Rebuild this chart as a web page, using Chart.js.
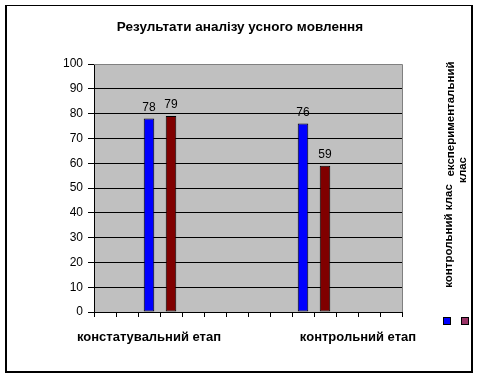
<!DOCTYPE html>
<html><head><meta charset="utf-8">
<script src="https://cdn.jsdelivr.net/npm/chart.js@4/dist/chart.umd.min.js"></script>
<style>html,body{margin:0;padding:0;background:#fff}canvas{display:block}</style>
</head><body>
<canvas id="c" width="480" height="379"></canvas>
<script>
// ---- data ----
const titleText = 'Результати аналізу усного мовлення';
const categories = ['', '', '', '', '', '', '', '', '', '', '', '', '', ''];
const controlClass = [null, null, 78, null, null, null, null, null, null, 76, null, null, null, null];
const experimentalClass = [null, null, null, 79, null, null, null, null, null, null, 59, null, null, null];
const seriesNames = ['контрольний клас', 'експериментальний клас'];
const stageLabels = ['констатувальний етап', 'контрольний етап'];
const yMin = 0, yMax = 100, yStep = 10;

// ---- layout / style ----
const stageLabelAt = [2, 11.5];
const FONT = '"Liberation Sans", Arial, sans-serif';

const decor = {
  id: 'decor',
  beforeDraw(chart) {
    const ctx = chart.ctx, a = chart.chartArea;
    ctx.save();
    ctx.fillStyle = '#fff';
    ctx.fillRect(0, 0, chart.width, chart.height);
    ctx.fillStyle = '#000';
    ctx.fillRect(5, 5, 468, 1);
    ctx.fillRect(5, 5, 2, 368);
    ctx.fillRect(471, 5, 2, 368);
    ctx.fillRect(5, 371, 468, 2);
    ctx.fillStyle = '#C0C0C0';
    ctx.fillRect(a.left, a.top, a.right - a.left, a.bottom - a.top);
    ctx.restore();
  },
  afterDraw(chart) {
    const ctx = chart.ctx, a = chart.chartArea;
    ctx.save();
    // plot border (top/right gray)
    ctx.strokeStyle = '#808080';
    ctx.lineWidth = 1;
    ctx.beginPath();
    ctx.moveTo(a.left, a.top + 0.5);
    ctx.lineTo(a.right + 0.5, a.top + 0.5);
    ctx.lineTo(a.right + 0.5, a.bottom);
    ctx.stroke();
    // title
    ctx.fillStyle = '#000';
    ctx.font = 'bold 13.5px ' + FONT;
    ctx.textAlign = 'center';
    ctx.textBaseline = 'alphabetic';
    ctx.fillText(titleText, 240, 31);
    // stage labels
    const xs = chart.scales.x;
    ctx.font = 'bold 13px ' + FONT;
    stageLabels.forEach((t, i) => {
      ctx.fillText(t, xs.getPixelForValue(stageLabelAt[i]), 341);
    });
    // value labels
    ctx.font = '12px ' + FONT;
    chart.data.datasets.forEach((ds, di) => {
      const meta = chart.getDatasetMeta(di);
      meta.data.forEach((el, i) => {
        const v = ds.data[i];
        if (v === null || v === undefined) return;
        ctx.fillText(String(v), el.x, el.y - 8);
      });
    });
    // legend
    ctx.font = 'bold 11.5px ' + FONT;
    ctx.textBaseline = 'middle';
    const rot = (t, x, y) => {
      ctx.save();
      ctx.translate(x, y);
      ctx.rotate(-Math.PI / 2);
      ctx.fillText(t, 0, 0);
      ctx.restore();
    };
    rot(seriesNames[0], 449, 236);
    const parts = seriesNames[1].split(' ');
    rot(parts[0], 451, 119);
    rot(parts[1], 463, 170);
    ctx.lineWidth = 1;
    ctx.strokeStyle = '#000';
    ctx.fillStyle = '#0000FF';
    ctx.fillRect(443.5, 317.5, 7, 7);
    ctx.strokeRect(443.5, 317.5, 7, 7);
    ctx.fillStyle = '#993366';
    ctx.fillRect(461.5, 317.5, 7, 7);
    ctx.strokeRect(461.5, 317.5, 7, 7);
    ctx.restore();
  }
};

new Chart(document.getElementById('c'), {
  type: 'bar',
  data: {
    labels: categories,
    datasets: [
      { label: seriesNames[0], data: controlClass, backgroundColor: '#0000FF', borderColor: '#000', borderWidth: 1,
        barPercentage: 0.48, categoryPercentage: 1, grouped: false, borderSkipped: false },
      { label: seriesNames[1], data: experimentalClass, backgroundColor: '#800000', borderColor: '#000', borderWidth: 1,
        barPercentage: 0.48, categoryPercentage: 1, grouped: false, borderSkipped: false }
    ]
  },
  options: {
    responsive: false,
    animation: false,
    devicePixelRatio: 1,
    layout: { padding: { left: 0, top: 64, right: 78, bottom: 0 } },
    plugins: { legend: { display: false }, title: { display: false }, tooltip: { enabled: false } },
    scales: {
      x: {
        offset: true,
        grid: { display: true, drawOnChartArea: false, drawTicks: true, tickLength: 5, color: '#000', offset: true },
        border: { display: true, color: '#000', width: 1 },
        ticks: { display: false },
        afterFit(s) { s.height = 67; }
      },
      y: {
        min: yMin, max: yMax,
        ticks: { stepSize: yStep, color: '#000', font: { family: FONT, size: 12 }, padding: 5 },
        grid: {
          color: (c) => (c.tick && c.tick.value === yMax ? 'rgba(0,0,0,0)' : '#000'),
          tickColor: '#000', tickLength: 6, drawTicks: true
        },
        border: { display: true, color: '#000', width: 1 },
        afterFit(s) { s.width = 94; }
      }
    }
  },
  plugins: [decor]
});
</script>
</body></html>
